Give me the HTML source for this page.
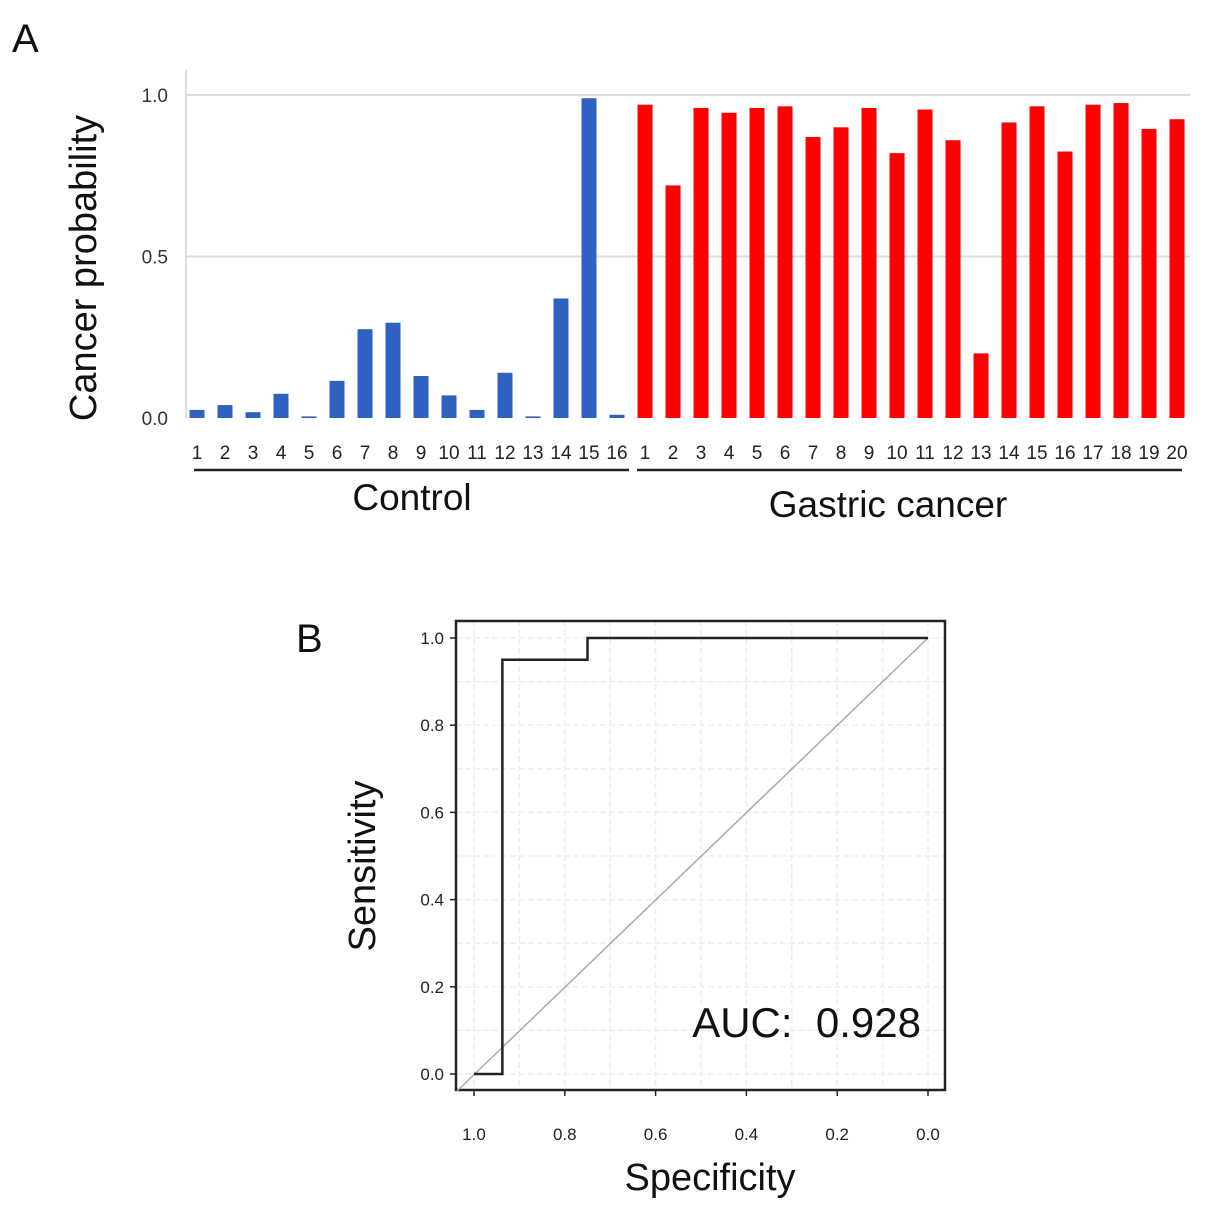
<!DOCTYPE html>
<html><head><meta charset="utf-8"><style>
body{margin:0;background:#fff;}
svg{display:block;font-family:"Liberation Sans",sans-serif;}
</style></head><body>
<svg id="c" width="1205" height="1215" xmlns="http://www.w3.org/2000/svg">
<text x="12" y="52" font-size="40" fill="#111">A</text>
<text x="296" y="652" font-size="40" fill="#111">B</text>
<g id="ga"></g>
<g id="gb"></g>
</svg>
<script>
const controlLabels=["1","2","3","4","5","6","7","8","9","10","11","12","13","14","15","16"];
const controlValues=[0.025,0.04,0.018,0.075,0.005,0.115,0.275,0.295,0.13,0.07,0.025,0.14,0.005,0.37,0.99,0.01];
const cancerLabels=["1","2","3","4","5","6","7","8","9","10","11","12","13","14","15","16","17","18","19","20"];
const cancerValues=[0.97,0.72,0.96,0.945,0.96,0.965,0.87,0.90,0.96,0.82,0.955,0.86,0.20,0.915,0.965,0.825,0.97,0.975,0.895,0.925];
const aTicks=[0,0.5,1.0];
const aTickLabels=["0.0","0.5","1.0"];
const rocSpec=[1,0.9375,0.9375,0.75,0.75,0];
const rocSens=[0,0,0.95,0.95,1,1];
const bTicks=[0,0.2,0.4,0.6,0.8,1.0];
const bTickLabels=["0.0","0.2","0.4","0.6","0.8","1.0"];
const auc="0.928";
const NS="http://www.w3.org/2000/svg";
function mk(p,t,a,txt){const e=document.createElementNS(NS,t);for(const k in a)e.setAttribute(k,a[k]);if(txt!==undefined)e.textContent=txt;p.appendChild(e);return e;}
// Panel A
const ga=document.getElementById('ga');
const ya=v=>418-v*323;
const xa=i=>197+i*28.0;
mk(ga,'line',{x1:186,y1:70,x2:186,y2:418,stroke:'#ddd','stroke-width':2});
aTicks.forEach((t,i)=>{
 if(t>0){const l=mk(ga,'line',{x1:187,y1:ya(t),x2:1190,y2:ya(t),stroke:'#ddd','stroke-width':2});
 }
 const tx=mk(ga,'text',{x:168,y:ya(t)+7,'text-anchor':'end','font-size':19,fill:'#333'},aTickLabels[i]);
 
});
const yt=mk(ga,'text',{x:96,y:268,'text-anchor':'middle','font-size':38,fill:'#111',transform:'rotate(-90 96 268)'},'Cancer probability');

const all=controlValues.map((v,i)=>({v,l:controlLabels[i],c:'#3060c0'})).concat(cancerValues.map((v,i)=>({v,l:cancerLabels[i],c:'#ff0000'})));
all.forEach((d,i)=>{
 const r=mk(ga,'rect',{x:xa(i)-7.5,y:ya(d.v),width:15,height:418-ya(d.v),fill:d.c});
 
 const t=mk(ga,'text',{x:xa(i),y:459,'text-anchor':'middle','font-size':19,fill:'#222'},d.l);
 
});
const n1=controlValues.length;
mk(ga,'line',{x1:194,y1:470,x2:xa(n1-1)+12,y2:470,stroke:'#222','stroke-width':2.5});
mk(ga,'line',{x1:xa(n1)-8,y1:470,x2:1182,y2:470,stroke:'#222','stroke-width':2.5});
const g1=mk(ga,'text',{x:412,y:510,'text-anchor':'middle','font-size':37,fill:'#111'},'Control');

const g2=mk(ga,'text',{x:888,y:517,'text-anchor':'middle','font-size':37,fill:'#111'},'Gastric cancer');

// Panel B
const gb=document.getElementById('gb');
const xb=s=>928-s*454;
const yb=v=>1074-v*436;
for(let k=0;k<=10;k++){const v=k/10;
 mk(gb,'line',{x1:xb(v),y1:621,x2:xb(v),y2:1090,stroke:'#eee','stroke-width':1.5,'stroke-dasharray':'6 3'});
 mk(gb,'line',{x1:456,y1:yb(v),x2:945,y2:yb(v),stroke:'#eee','stroke-width':1.5,'stroke-dasharray':'6 3'});}
const bx=mk(gb,'rect',{x:456,y:621,width:489,height:469,fill:'none',stroke:'#222','stroke-width':2.5});

mk(gb,'line',{x1:xb(1)-17,y1:yb(0)+17,x2:xb(0),y2:yb(1),stroke:'#aaa','stroke-width':1.5});
bTicks.forEach((t,i)=>{
 mk(gb,'line',{x1:450,y1:yb(t),x2:456,y2:yb(t),stroke:'#222','stroke-width':1.5});
 const a=mk(gb,'text',{x:444,y:yb(t)+6,'text-anchor':'end','font-size':17,fill:'#222'},bTickLabels[i]);
 
 mk(gb,'line',{x1:xb(t),y1:1090,x2:xb(t),y2:1096,stroke:'#222','stroke-width':1.5});
 const b=mk(gb,'text',{x:xb(t),y:1140,'text-anchor':'middle','font-size':17,fill:'#222'},bTickLabels[i]);
 
});
const pts=rocSpec.map((s,i)=>xb(s)+','+yb(rocSens[i])).join(' ');
const rl=mk(gb,'polyline',{points:pts,fill:'none',stroke:'#222','stroke-width':2.5});

const yl=mk(gb,'text',{x:375,y:866,'text-anchor':'middle','font-size':38,fill:'#111',transform:'rotate(-90 375 866)'},'Sensitivity');

const xl=mk(gb,'text',{x:710,y:1190,'text-anchor':'middle','font-size':38,fill:'#111'},'Specificity');

const at=mk(gb,'text',{x:921,y:1037,'text-anchor':'end','font-size':42,fill:'#111'},'AUC:\u00a0\u00a0'+auc);

</script>
</body></html>
